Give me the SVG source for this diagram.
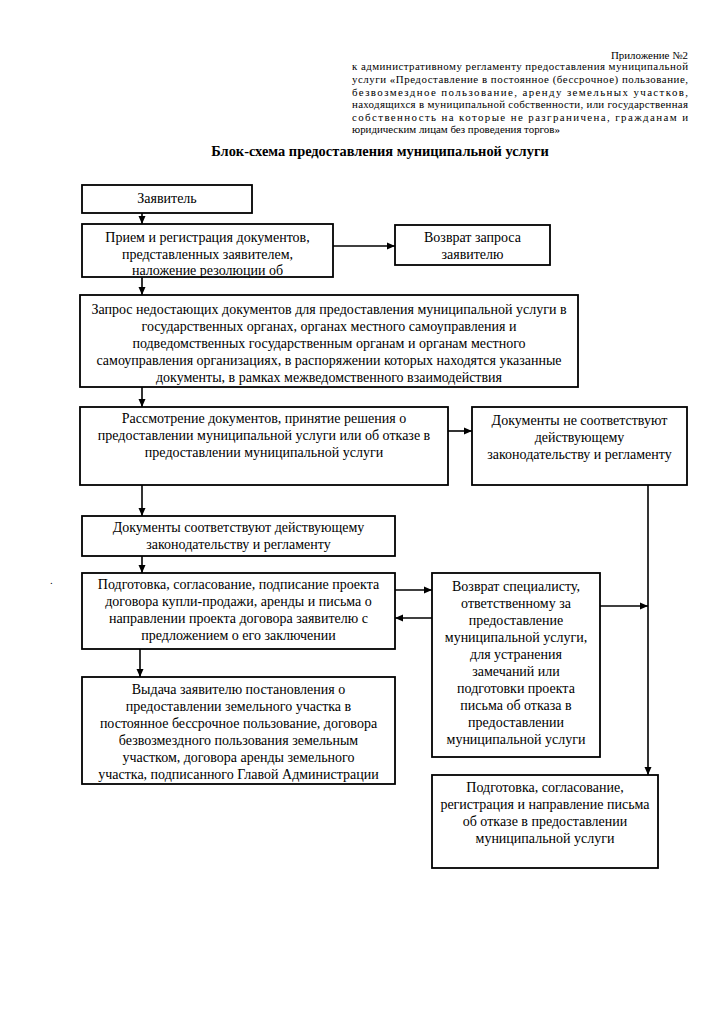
<svg xmlns="http://www.w3.org/2000/svg" width="723" height="1024" viewBox="0 0 723 1024">
<style>
text{font-family:"Liberation Serif","Times New Roman",serif;fill:#000}
.hdr{font-size:10.9px}
.ttl{font-size:14.4px;font-weight:bold;text-anchor:middle}
.bt{font-size:14px;text-anchor:middle}
.box{fill:#fff;stroke:#000;stroke-width:1.8}
.ln{fill:none;stroke:#000;stroke-width:1.6}
</style>
<defs>
<marker id="ah" markerUnits="userSpaceOnUse" markerWidth="9" markerHeight="8" refX="8" refY="4" orient="auto">
<path d="M0,0.5 L8,4 L0,7.5 z" fill="#000"/>
</marker>
</defs>
<rect width="723" height="1024" fill="#fff"/>
<g id="header">
<text class="hdr" x="688" y="59" text-anchor="end">Приложение №2</text>
<text class="hdr" x="352" y="70" textLength="336" lengthAdjust="spacing">к административному регламенту предоставления муниципальной</text>
<text class="hdr" x="352" y="83" textLength="336" lengthAdjust="spacing">услуги «Предоставление в постоянное (бессрочное) пользование,</text>
<text class="hdr" x="352" y="96" textLength="336" lengthAdjust="spacing">безвозмездное пользование, аренду земельных участков,</text>
<text class="hdr" x="352" y="108" textLength="336" lengthAdjust="spacing">находящихся в муниципальной собственности, или государственная</text>
<text class="hdr" x="352" y="121" textLength="336" lengthAdjust="spacing">собственность на которые не разграничена, гражданам и</text>
<text class="hdr" x="352" y="133">юридическим лицам без проведения торгов»</text>
<text class="ttl" x="380" y="156">Блок-схема предоставления муниципальной услуги</text>
<text class="hdr" x="50" y="584">.</text>
</g>
<g id="connectors">
<line class="ln" x1="142" y1="213" x2="142" y2="224" marker-end="url(#ah)"/>
<line class="ln" x1="333" y1="246" x2="395" y2="246" marker-end="url(#ah)"/>
<line class="ln" x1="142" y1="277" x2="142" y2="295" marker-end="url(#ah)"/>
<line class="ln" x1="142" y1="387" x2="142" y2="407" marker-end="url(#ah)"/>
<line class="ln" x1="448" y1="431" x2="472" y2="431" marker-end="url(#ah)"/>
<line class="ln" x1="142" y1="485" x2="142" y2="516" marker-end="url(#ah)"/>
<line class="ln" x1="142" y1="556" x2="142" y2="573" marker-end="url(#ah)"/>
<line class="ln" x1="395" y1="590" x2="432" y2="590" marker-end="url(#ah)"/>
<line class="ln" x1="432" y1="618" x2="395" y2="618" marker-end="url(#ah)"/>
<line class="ln" x1="140" y1="649" x2="140" y2="677" marker-end="url(#ah)"/>
<line class="ln" x1="600" y1="606" x2="648" y2="606" marker-end="url(#ah)"/>
<line class="ln" x1="648" y1="485" x2="648" y2="775" marker-end="url(#ah)"/>
</g>
<g id="n1">
<rect class="box" x="82" y="185" width="170" height="28"/>
<text class="bt" x="167" y="203">Заявитель</text>
</g>
<g id="n2">
<rect class="box" x="82" y="224" width="251" height="53"/>
<text class="bt" x="207.5" y="242">Прием и регистрация документов,</text>
<text class="bt" x="207.5" y="259">представленных заявителем,</text>
<text class="bt" x="207.5" y="275">наложение резолюции об</text>
</g>
<g id="n3">
<rect class="box" x="395" y="225" width="155" height="40"/>
<text class="bt" x="472.5" y="242">Возврат запроса</text>
<text class="bt" x="472.5" y="259">заявителю</text>
</g>
<g id="n4">
<rect class="box" x="80" y="295" width="498" height="92"/>
<text class="bt" x="329" y="314">Запрос недостающих документов для предоставления муниципальной услуги в</text>
<text class="bt" x="329" y="331">государственных органах, органах местного самоуправления и</text>
<text class="bt" x="329" y="348">подведомственных государственным органам и органам местного</text>
<text class="bt" x="329" y="365">самоуправления организациях, в распоряжении которых находятся указанные</text>
<text class="bt" x="329" y="382">документы, в рамках межведомственного взаимодействия</text>
</g>
<g id="n5">
<rect class="box" x="80" y="407" width="368" height="78"/>
<text class="bt" x="264" y="423">Рассмотрение документов, принятие решения о</text>
<text class="bt" x="264" y="440">предоставлении муниципальной услуги или об отказе в</text>
<text class="bt" x="264" y="457">предоставлении муниципальной услуги</text>
</g>
<g id="n6">
<rect class="box" x="472" y="407" width="215" height="78"/>
<text class="bt" x="579.5" y="425">Документы не соответствуют</text>
<text class="bt" x="579.5" y="442">действующему</text>
<text class="bt" x="579.5" y="459">законодательству и регламенту</text>
</g>
<g id="n7">
<rect class="box" x="82" y="516" width="313" height="40"/>
<text class="bt" x="238.5" y="532">Документы соответствуют действующему</text>
<text class="bt" x="238.5" y="549">законодательству и регламенту</text>
</g>
<g id="n8">
<rect class="box" x="82" y="573" width="313" height="76"/>
<text class="bt" x="238.5" y="589">Подготовка, согласование, подписание проекта</text>
<text class="bt" x="238.5" y="606">договора купли-продажи, аренды и письма о</text>
<text class="bt" x="238.5" y="623">направлении проекта договора заявителю с</text>
<text class="bt" x="238.5" y="640">предложением о его заключении</text>
</g>
<g id="n9">
<rect class="box" x="432" y="573" width="168" height="184"/>
<text class="bt" x="516" y="591">Возврат специалисту,</text>
<text class="bt" x="516" y="608">ответственному за</text>
<text class="bt" x="516" y="625">предоставление</text>
<text class="bt" x="516" y="642">муниципальной услуги,</text>
<text class="bt" x="516" y="659">для устранения</text>
<text class="bt" x="516" y="676">замечаний или</text>
<text class="bt" x="516" y="693">подготовки проекта</text>
<text class="bt" x="516" y="710">письма об отказа в</text>
<text class="bt" x="516" y="727">предоставлении</text>
<text class="bt" x="516" y="744">муниципальной услуги</text>
</g>
<g id="n10">
<rect class="box" x="82" y="677" width="313" height="107"/>
<text class="bt" x="238.5" y="694">Выдача заявителю постановления о</text>
<text class="bt" x="238.5" y="711">предоставлении земельного участка в</text>
<text class="bt" x="238.5" y="728">постоянное бессрочное пользование, договора</text>
<text class="bt" x="238.5" y="745">безвозмездного пользования земельным</text>
<text class="bt" x="238.5" y="762">участком, договора аренды земельного</text>
<text class="bt" x="238.5" y="779">участка, подписанного Главой Администрации</text>
</g>
<g id="n11">
<rect class="box" x="432" y="775" width="226" height="93"/>
<text class="bt" x="545" y="792">Подготовка, согласование,</text>
<text class="bt" x="545" y="809">регистрация и направление письма</text>
<text class="bt" x="545" y="826">об отказе в предоставлении</text>
<text class="bt" x="545" y="843">муниципальной услуги</text>
</g>
</svg>
